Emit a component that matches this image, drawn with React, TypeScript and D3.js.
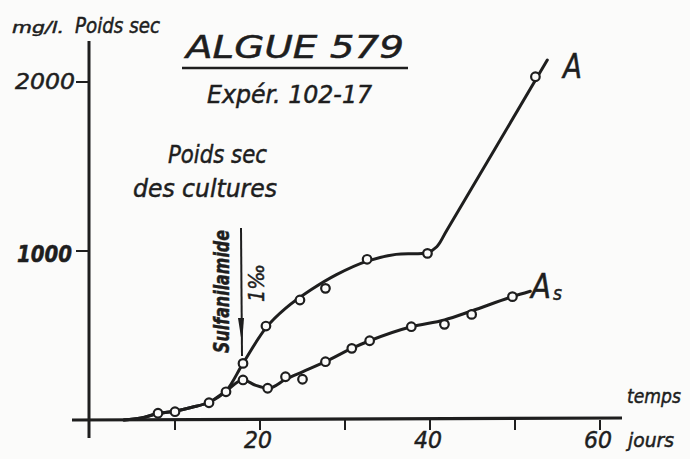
import React from "react";
import * as d3 from "d3";

const W = 690;
const H = 459;

// Observed points (circles) — curve A (control culture)
const aDays = [8, 10, 14, 16, 18, 20.7, 24.7, 27.7, 32.6, 39.7, 52.4];
const aVals = [40, 49, 102, 167, 335, 556, 710, 779, 951, 986, 2031];
// Observed points — curve As (with sulfanilamide)
const asDays = [18, 20.9, 23, 25, 27.7, 30.8, 32.9, 37.8, 41.7, 44.9, 49.7];
const asVals = [237, 188, 256, 241, 345, 424, 469, 552, 566, 625, 730];

// Hand-drawn smoothed curves
const aCurveDays = [4, 6, 8, 10, 12, 14, 16, 18, 20.7, 23, 26, 29, 32.6, 36, 39.7, 40.8, 42, 53.8];
const aCurveVals = [0, 12, 38, 52, 75, 105, 172, 335, 545, 660, 770, 860, 940, 980, 990, 1025, 1124, 2130];
const asCurveDays = [4, 6, 8, 10, 12, 14, 16, 18, 19.5, 21, 23, 25, 27.7, 30.8, 32.9, 37.8, 41.7, 44.9, 49.7, 51.8];
const asCurveVals = [0, 12, 38, 52, 75, 105, 172, 237, 205, 188, 240, 285, 345, 424, 469, 552, 592, 645, 730, 762];

const xTicks = [0, 10, 20, 30, 40, 50, 60];
const xLabels = [20, 40, 60];
const yTicks = [1000, 2000];
const sulfaDay = 18;

const INK = "#1e1e1e";
const PAPER = "#fbfbfa";
const FONT = "'DejaVu Sans', 'Liberation Sans', sans-serif";

export default function App() {
  const x = d3.scaleLinear().domain([0, 60]).range([90, 600]);
  const y = d3.scaleLinear().domain([0, 2000]).range([420, 82]);

  const lineA = d3
    .line<[number, number]>()
    .x((d) => x(d[0]))
    .y((d) => y(d[1]))
    .curve(d3.curveCatmullRom.alpha(0.5));
  const lineS = d3
    .line<[number, number]>()
    .x((d) => x(d[0]))
    .y((d) => y(d[1]))
    .curve(d3.curveMonotoneX);

  const aPath = lineA(aCurveDays.map((d, i) => [d, aCurveVals[i]] as [number, number])) || "";
  const asPath = lineS(asCurveDays.map((d, i) => [d, asCurveVals[i]] as [number, number])) || "";

  const sx = x(sulfaDay) - 2;

  const T = (props: any) => (
    <text
      fontFamily={FONT}
      fontStyle="oblique"
      fill={INK}
      stroke={INK}
      strokeWidth={0.5}
      lengthAdjust="spacingAndGlyphs"
      {...props}
    />
  );

  return (
    <svg
      width={W}
      height={H}
      style={{ position: "absolute", left: 0, top: 0, background: PAPER }}
    >
      {/* axes */}
      <line x1={x(0) - 1} y1={41} x2={x(0) - 1} y2={438} stroke={INK} strokeWidth={3} />
      <line x1={72} y1={y(0)} x2={622} y2={y(0) - 2} stroke={INK} strokeWidth={3.2} />
      {xTicks.filter((t) => t > 0).map((t) => (
        <line key={"xt" + t} x1={x(t)} x2={x(t)} y1={y(0)} y2={y(0) + 10} stroke={INK} strokeWidth={2} />
      ))}
      {yTicks.map((t) => (
        <line key={"yt" + t} x1={x(0) - 14} x2={x(0)} y1={y(t)} y2={y(t)} stroke={INK} strokeWidth={2} />
      ))}
      {xLabels.map((t) => (
        <T key={"xl" + t} x={x(t) - 2} y={448} fontSize={23} textAnchor="middle" textLength={28}>
          {t}
        </T>
      ))}
      <T x={15} y={89} fontSize={21} textLength={60}>{yTicks[1]}</T>
      <T x={17} y={262} fontSize={23} textLength={55} fontWeight="bold">{yTicks[0]}</T>

      {/* axis titles */}
      <T x={12} y={33} fontSize={16} textLength={52}>mg/l.</T>
      <T x={75} y={33} fontSize={21} textLength={85}>Poids sec</T>
      <T x={627} y={403} fontSize={20} textLength={54}>temps</T>
      <T x={628} y={447} fontSize={19} textLength={46}>jours</T>

      {/* title */}
      <T x={186} y={58} fontSize={32} textLength={218}>ALGUE 579</T>
      <line x1={182} x2={408} y1={68} y2={68} stroke={INK} strokeWidth={2.5} />
      <T x={207} y={103} fontSize={24} textLength={165}>Expér. 102-17</T>

      <T x={168} y={163} fontSize={25} textLength={99}>Poids sec</T>
      <T x={133} y={197} fontSize={24} textLength={144}>des cultures</T>

      {/* sulfanilamide arrow */}
      <line x1={sx} x2={sx + 1} y1={228} y2={356} stroke={INK} strokeWidth={2} />
      <polygon points={`${sx - 3},318 ${sx + 3},318 ${sx + 1},344`} fill={INK} />
      <T transform="translate(229,353) rotate(-90)" fontSize={21} textLength={123} fontWeight="bold">
        Sulfanilamide
      </T>
      <T transform="translate(264,302) rotate(-90)" fontSize={22} textLength={38}>
        1‰
      </T>

      {/* curves */}
      <path d={asPath} fill="none" stroke={INK} strokeWidth={3} strokeLinejoin="round" strokeLinecap="round" />
      <path d={aPath} fill="none" stroke={INK} strokeWidth={3} strokeLinejoin="round" strokeLinecap="round" />

      {aDays.map((d, i) => (
        <circle key={"a" + i} cx={x(d)} cy={y(aVals[i])} r={4.3} fill={PAPER} stroke={INK} strokeWidth={2.2} />
      ))}
      {asDays.map((d, i) => (
        <circle key={"s" + i} cx={x(d)} cy={y(asVals[i])} r={4.3} fill={PAPER} stroke={INK} strokeWidth={2.2} />
      ))}

      {/* curve labels */}
      <T x={563} y={78} fontSize={34} textLength={19}>A</T>
      <T x={531} y={298} fontSize={34} textLength={20}>A</T>
      <T x={553} y={300} fontSize={20} textLength={9}>s</T>
    </svg>
  );
}
